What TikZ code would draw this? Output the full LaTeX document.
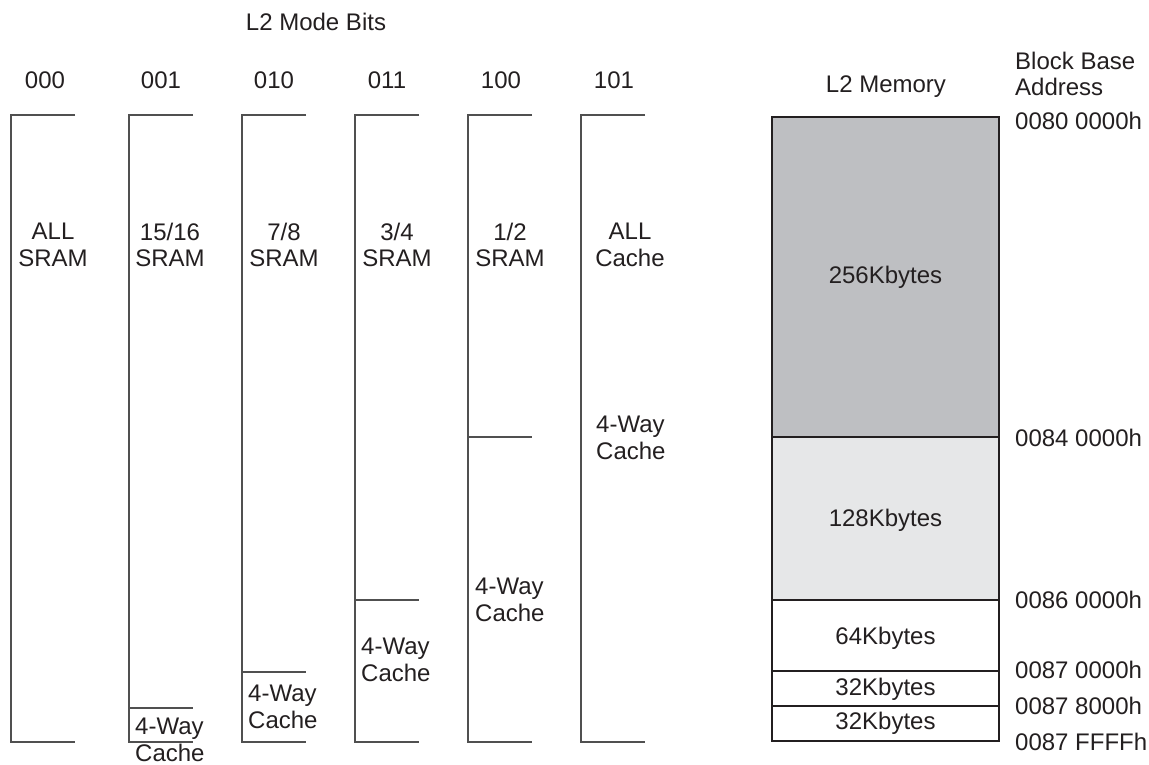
\documentclass[tikz,border=0pt]{standalone}
\usepackage{fontspec}
\setmainfont{Liberation Sans}
\begin{document}
\begin{tikzpicture}[x=1pt,y=-1pt,
  lbl/.style={inner sep=0pt,text=txt,font=\fontsize{24}{26.5}\selectfont,align=center},
  lbll/.style={lbl,anchor=west,align=left},
  col/.style={draw=colline,line width=1.3pt},
  mem/.style={draw=memline,line width=2pt}]
\definecolor{txt}{HTML}{231F20}
\definecolor{colline}{HTML}{505050}
\definecolor{memline}{HTML}{231F20}
\definecolor{darkfill}{HTML}{BEBFC2}
\definecolor{lightfill}{HTML}{E6E7E8}
\useasboundingbox (0,0) rectangle (1149,765);
% header
\node[lbl] (title) at (316,22) {L2 Mode Bits};
\node[lbl] (h0) at (45,80) {000};
\node[lbl] (h1) at (161,80) {001};
\node[lbl] (h2) at (274,80) {010};
\node[lbl] (h3) at (387,80) {011};
\node[lbl] (h4) at (501,80) {100};
\node[lbl] (h5) at (614,80) {101};
% columns
\draw[col] (75,115) -- (11,115) -- (11,742) -- (75,742);
\draw[col] (193,115) -- (129,115) -- (129,742) -- (193,742);
\draw[col] (129,708) -- (193,708);
\draw[col] (306,115) -- (242,115) -- (242,742) -- (306,742);
\draw[col] (242,672) -- (306,672);
\draw[col] (419,115) -- (355,115) -- (355,742) -- (419,742);
\draw[col] (355,600) -- (419,600);
\draw[col] (532,115) -- (468,115) -- (468,742) -- (532,742);
\draw[col] (468,437) -- (532,437);
\draw[col] (645,115) -- (581,115) -- (581,742) -- (645,742);
% column labels
\node[lbl] (c0) at (53,245) {ALL\\SRAM};
\node[lbl] (c1) at (170,245) {15/16\\SRAM};
\node[lbl] (c2) at (284,245) {7/8\\SRAM};
\node[lbl] (c3) at (397,245) {3/4\\SRAM};
\node[lbl] (c4) at (510,245) {1/2\\SRAM};
\node[lbl] (c5) at (630,245) {ALL\\Cache};
\node[lbll] (w5) at (596,438) {4-Way\\Cache};
\node[lbll] (w4) at (475,600) {4-Way\\Cache};
\node[lbll] (w3) at (248,707) {4-Way\\Cache};
\node[lbll] (w3b) at (361,660) {4-Way\\Cache};
\node[lbll] (w1) at (135,740) {4-Way\\Cache};
% memory
\draw[mem,fill=darkfill] (772,117) rectangle (999,437);
\draw[mem,fill=lightfill] (772,437) rectangle (999,600);
\draw[mem,fill=white] (772,600) rectangle (999,671);
\draw[mem,fill=white] (772,671) rectangle (999,706);
\draw[mem,fill=white] (772,706) rectangle (999,741);
\node[lbl] (m1) at (885.5,277.5) {256Kbytes};
\node[lbl] (m2) at (885.5,520) {128Kbytes};
\node[lbl] (m3) at (885.5,638) {64Kbytes};
\node[lbl] (m4) at (885.5,689) {32Kbytes};
\node[lbl] (m5) at (885.5,723) {32Kbytes};
\node[lbl] (mt) at (886,87) {L2 Memory};
\node[lbll] (bb) at (1015,74) {Block Base\\Address};
\node[lbll] (a0) at (1015,121) {0080 0000h};
\node[lbll] (a1) at (1015,438) {0084 0000h};
\node[lbll] (a2) at (1015,600) {0086 0000h};
\node[lbll] (a3) at (1015,670) {0087 0000h};
\node[lbll] (a4) at (1015,706) {0087 8000h};
\node[lbll] (a5) at (1015,742) {0087 FFFFh};
\end{tikzpicture}
\end{document}
